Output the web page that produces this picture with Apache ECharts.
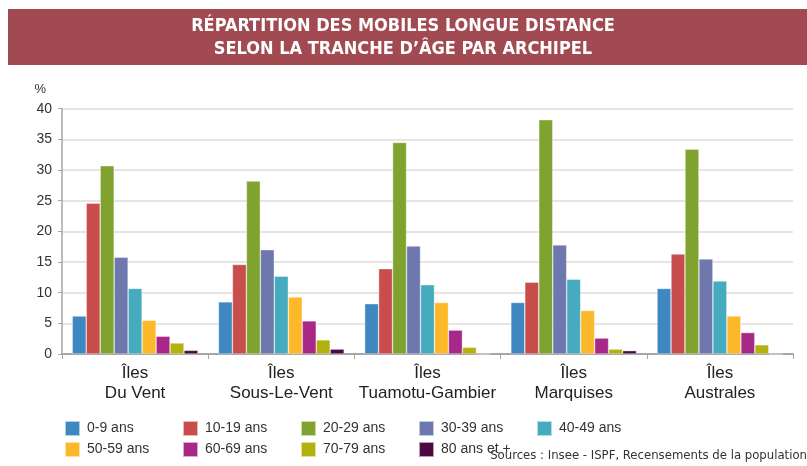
<!DOCTYPE html>
<html>
<head>
<meta charset="utf-8">
<script src="https://cdn.jsdelivr.net/npm/echarts@6/dist/echarts.min.js"></script>
<style>
  html, body { margin: 0; padding: 0; background: #fff; }
  #chart { width: 807px; height: 466px; }
</style>
</head>
<body>
<div id="chart"></div>
<script>
// Archipelagos (category axis)
const archipels = ['Îles\nDu Vent', 'Îles\nSous-Le-Vent', 'Îles\nTuamotu-Gambier', 'Îles\nMarquises', 'Îles\nAustrales'];

// Age bands (one series each)
const tranches = ['0-9 ans', '10-19 ans', '20-29 ans', '30-39 ans', '40-49 ans',
                  '50-59 ans', '60-69 ans', '70-79 ans', '80 ans et +'];

// Share of long-distance movers (%) per archipelago, one array per age band
const age0_9   = [6.2, 8.5, 8.2, 8.4, 10.7];
const age10_19 = [24.6, 14.6, 13.9, 11.7, 16.3];
const age20_29 = [30.7, 28.2, 34.5, 38.2, 33.4];
const age30_39 = [15.8, 17.0, 17.6, 17.8, 15.5];
const age40_49 = [10.7, 12.7, 11.3, 12.2, 11.9];
const age50_59 = [5.5, 9.3, 8.4, 7.1, 6.2];
const age60_69 = [2.9, 5.4, 3.9, 2.6, 3.5];
const age70_79 = [1.8, 2.3, 1.1, 0.8, 1.5];
const age80p   = [0.6, 0.8, 0.0, 0.55, 0.0];

const seriesValues = [age0_9, age10_19, age20_29, age30_39, age40_49, age50_59, age60_69, age70_79, age80p];

const yTicks = [0, 5, 10, 15, 20, 25, 30, 35, 40];

const palette = ['#3e87c1', '#c94d4c', '#80a32f', '#6e78ae', '#46abbe',
                 '#fdb82a', '#a8288a', '#b3b10f', '#4b0b40'];

const narrow = "'Liberation Sans Narrow', 'Liberation Sans', Arial, sans-serif";

// Legend laid out as a 5-column grid, one legend component per entry
const legends = tranches.map((name, i) => ({
  data: [{ name: name, icon: 'rect' }],
  left: 64 + (i % 5) * 118,
  top: 420 + Math.floor(i / 5) * 21,
  itemWidth: 15,
  itemHeight: 15,
  itemGap: 0,
  padding: 0,
  selectedMode: false,
  textStyle: { fontFamily: narrow, fontSize: 14, color: '#333', padding: [0, 0, 0, 2] }
}));

const chart = echarts.init(document.getElementById('chart'), null, { renderer: 'canvas' });

chart.setOption({
  animation: false,
  backgroundColor: '#fff',
  color: palette,
  graphic: [
    {
      type: 'rect',
      shape: { x: 8, y: 9, width: 799, height: 56 },
      style: { fill: '#a14a52' },
      z: 0
    },
    {
      type: 'text',
      x: 403, y: 37.5,
      style: {
        text: 'RÉPARTITION DES MOBILES LONGUE DISTANCE\nSELON LA TRANCHE D’ÂGE PAR ARCHIPEL',
        fill: '#ffffff',
        font: "bold 18px 'DejaVu Sans Condensed', 'DejaVu Sans', sans-serif",
        lineHeight: 23,
        align: 'center',
        verticalAlign: 'middle'
      },
      z: 1
    },
    {
      type: 'text',
      right: 0, top: 449,
      style: {
        text: 'Sources : Insee - ISPF, Recensements de la population',
        fill: '#333',
        font: "13px 'DejaVu Sans Condensed', 'DejaVu Sans', sans-serif",
        align: 'right'
      }
    }
  ],
  legend: legends,
  grid: { left: 62, right: 14, top: 108.7, bottom: 112, containLabel: false },
  xAxis: {
    type: 'category',
    data: archipels,
    axisLine: { lineStyle: { color: '#a6a6a6', width: 2 } },
    axisTick: { show: true, length: 5, lineStyle: { color: '#a6a6a6' } },
    axisLabel: {
      fontFamily: narrow,
      fontSize: 17,
      color: '#222',
      lineHeight: 20,
      margin: 9,
      interval: 0
    }
  },
  yAxis: {
    type: 'value',
    min: 0, max: 40, interval: 5,
    name: '%',
    nameLocation: 'end',
    nameGap: 13,
    nameTextStyle: { align: 'right', color: '#333', fontSize: 13, fontFamily: 'Liberation Sans, Arial, sans-serif', padding: [0, 16, 0, 0] },
    axisLine: { show: true, lineStyle: { color: '#a6a6a6', width: 1.5 } },
    axisTick: { show: true, length: 4, lineStyle: { color: '#a6a6a6' } },
    axisLabel: {
      color: '#333',
      fontSize: 14,
      fontFamily: 'Liberation Sans, Arial, sans-serif',
      margin: 10,
      formatter: v => (yTicks.indexOf(v) >= 0 ? String(v) : '')
    },
    splitLine: { show: true, lineStyle: { color: '#dcdcdc', width: 1.5 } }
  },
  series: tranches.map((name, i) => ({
    name: name,
    type: 'bar',
    data: seriesValues[i],
    barGap: '0%',
    barCategoryGap: '14%',
    itemStyle: { color: palette[i], borderColor: 'rgba(255,255,255,0.6)', borderWidth: 0.6 }
  }))
});
</script>
</body>
</html>
